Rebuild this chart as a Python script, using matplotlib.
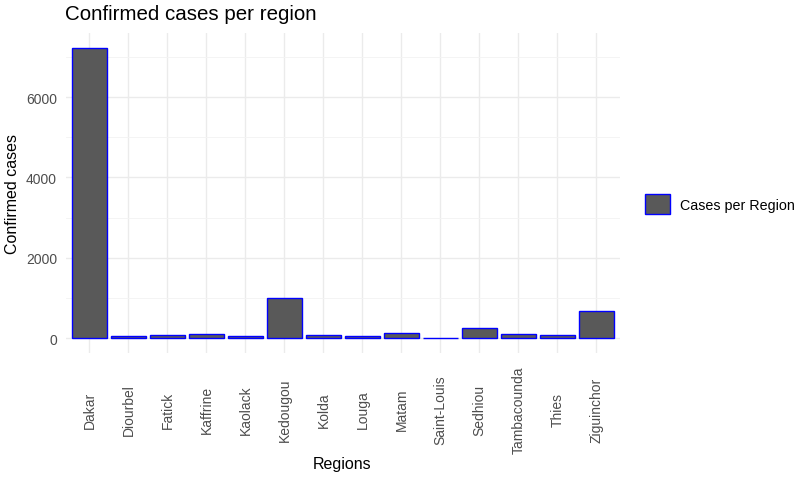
import matplotlib
matplotlib.use("Agg")
import matplotlib.pyplot as plt
from matplotlib.patches import Patch

regions = ["Dakar", "Diourbel", "Fatick", "Kaffrine", "Kaolack", "Kedougou", "Kolda",
           "Louga", "Matam", "Saint-Louis", "Sedhiou", "Tambacounda", "Thies", "Ziguinchor"]
cases = [7230, 40, 75, 100, 40, 985, 75, 40, 130, 10, 240, 100, 75, 670]

plt.rcParams['font.family'] = ['Liberation Sans', 'DejaVu Sans']

fig = plt.figure(figsize=(7.98, 4.81), dpi=100)
ax = fig.add_axes([0.0827, 0.265, 0.694, 0.664])

x = list(range(len(regions)))
ax.bar(x, cases, width=0.9, color="#595959", edgecolor="#0000FF", linewidth=1, zorder=3)

ymax = max(cases)
ax.set_xlim(-0.6, len(regions) - 0.4)
ax.set_ylim(-0.05 * ymax, 1.05 * ymax)
ax.set_xticks(x)
ax.set_xticklabels(regions, rotation=90, color="#4D4D4D", fontsize=10, va="center")
ax.set_yticks([0, 2000, 4000, 6000])
ax.set_yticks([1000, 3000, 5000, 7000], minor=True)
ax.tick_params(axis="y", labelcolor="#4D4D4D", labelsize=10)
ax.tick_params(which="both", length=0)
ax.tick_params(axis="y", pad=6.5)
ax.tick_params(axis="x", pad=40.7)
ax.grid(which="major", color="#EBEBEB", linewidth=1, zorder=0)
ax.grid(which="minor", axis="y", color="#F3F3F3", linewidth=0.6, zorder=0)
for s in ax.spines.values():
    s.set_visible(False)

ax.set_xlabel("Regions", fontsize=11.5, va="center")
ax.xaxis.set_label_coords(0.498, -0.346)
ax.set_ylabel("Confirmed cases", fontsize=11.5, va="center")
ax.yaxis.set_label_coords(-0.0966, 0.5)
fig.text(65 / 798, 1 - 20 / 481, "Confirmed cases per region", fontsize=14.8,
         ha="left", va="baseline")

handle = Patch(facecolor="#595959", edgecolor="#0000FF", linewidth=1)
ax.legend([handle], ["Cases per Region"], loc="center left",
          bbox_to_anchor=(639 / 798, 1 - 205 / 481), bbox_transform=fig.transFigure,
          frameon=False, fontsize=10.3, handlelength=1.75, handleheight=1.75,
          handletextpad=0.7, borderaxespad=0)

fig.savefig("out.png", dpi=100)
